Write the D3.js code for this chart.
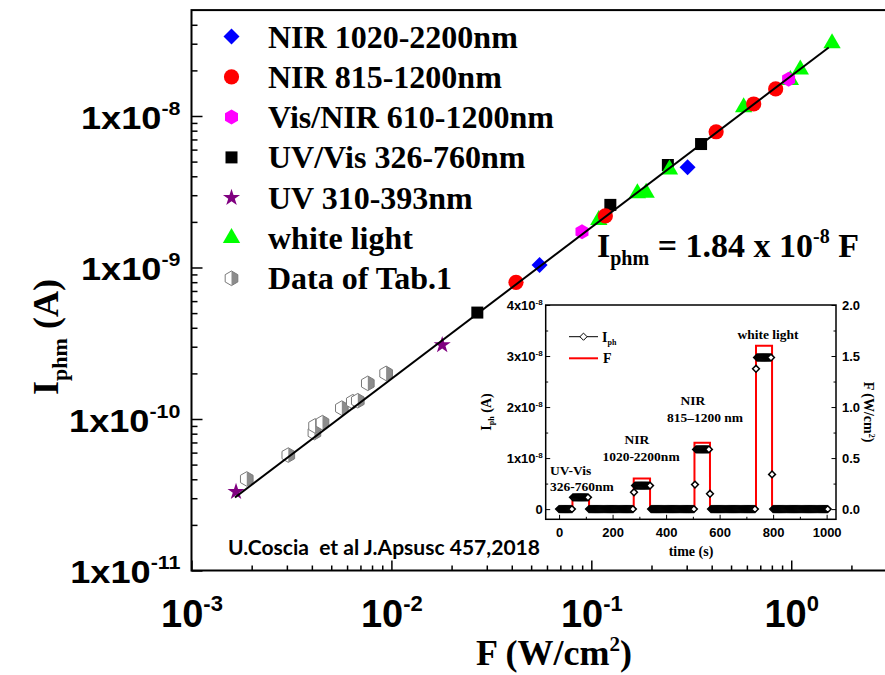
<!DOCTYPE html>
<html>
<head>
<meta charset="utf-8">
<script src="https://cdn.jsdelivr.net/npm/d3@7"></script>
<style>
  body { margin: 0; background: #fff; }
  svg { display: block; }
</style>
</head>
<body>
<svg id="chart" width="885" height="675"></svg>
<script>
// ---------- main plot data: photocurrent vs. irradiance ----------
const nir1020F = [0.0551, 0.303];
const nir1020I = [1.04e-9, 4.58e-9];
const nir815F = [0.042, 0.1175, 0.421, 0.649, 0.836];
const nir815I = [7.98e-10, 2.19e-9, 7.87e-9, 1.20e-8, 1.51e-8];
const visNirF = [0.0898, 0.97];
const visNirI = [1.72e-9, 1.75e-8];
const uvVisF = [0.0269, 0.1245, 0.2415, 0.354];
const uvVisI = [5.04e-10, 2.59e-9, 4.75e-9, 6.53e-9];
const uvF = [1.67e-3, 0.01795];
const uvI = [3.31e-11, 3.08e-10];
const whiteF = [0.109, 0.170, 0.188, 0.246, 0.578, 0.99, 1.11, 1.60];
const whiteI = [2.06e-9, 3.09e-9, 3.12e-9, 4.44e-9, 1.14e-8, 1.73e-8, 2.03e-8, 3.02e-8];
const tab1F = [1.89e-3, 3.05e-3, 4.12e-3, 4.15e-3, 4.52e-3, 5.65e-3, 6.41e-3, 6.79e-3, 7.62e-3, 9.41e-3];
const tab1I = [4.02e-11, 5.78e-11, 8.13e-11, 9.0e-11, 9.46e-11, 1.18e-10, 1.30e-10, 1.32e-10, 1.72e-10, 2.00e-10];

// linear fit  I_phm = 1.84e-8 * F
const fitSlope = 1.84e-8;
const fitRangeF = [1.65e-3, 1.54];

const legendLabels = ["NIR 1020-2200nm", "NIR 815-1200nm", "Vis/NIR 610-1200nm",
  "UV/Vis 326-760nm", "UV 310-393nm", "white light", "Data of Tab.1"];
const xMajorTicks = [1e-3, 1e-2, 1e-1, 1e0];
const xTickExponents = ["-3", "-2", "-1", "0"];
const yMajorTicks = [1e-11, 1e-10, 1e-9, 1e-8];
const yTickExponents = ["-11", "-10", "-9", "-8"];

// ---------- inset data: time response ----------
const iphTime = [
  0, 4, 8, 12, 16, 20, 24, 28, 32, 36, 40, 44, 48,
  52, 56, 60, 64, 68, 72, 76, 80, 84, 88, 92, 96, 100, 104, 108,
  112, 116, 120, 124, 128, 132, 136, 140, 144, 148, 152, 156, 160, 164, 168, 172, 176, 180, 184, 188,
  192, 196, 200, 204, 208, 212, 216, 220, 224, 228, 232, 236, 240, 244, 248, 252, 256, 260, 264, 268, 272, 276,
  280,
  284, 288, 292, 296, 300, 304, 308, 312, 316, 320, 324, 328, 332, 336, 340,
  344, 348, 352, 356, 360, 364, 368, 372, 376, 380, 384, 388, 392, 396, 400, 404, 408, 412, 416, 420,
  424, 428, 432, 436, 440, 444, 448, 452, 456, 460, 464, 468, 472, 476, 480, 484, 488, 492, 496, 500, 504,
  508,
  512, 516, 520, 524, 528, 532, 536, 540, 544, 548, 552, 556, 560,
  564,
  568, 572, 576, 580, 584, 588, 592, 596, 600, 604, 608, 612, 616, 620, 624, 628, 632, 636, 640, 644,
  648, 652, 656, 660, 664, 668, 672, 676, 680, 684, 688, 692, 696, 700, 704, 708, 712, 716, 720, 724, 728, 732,
  736,
  740, 744, 748, 752, 756, 760, 764, 768, 772, 776, 780, 784, 788, 792,
  796,
  800, 804, 808, 812, 816, 820, 824, 828, 832, 836, 840, 844, 848, 852, 856, 860, 864, 868, 872, 876,
  880, 884, 888, 892, 896, 900, 904, 908, 912, 916, 920, 924, 928, 932, 936, 940, 944, 948, 952, 956,
  960, 964, 968, 972, 976, 980, 984, 988, 992, 996, 1000, 1004
];
const iphValue = [
  0, 0, 0, 0, 0, 0, 0, 0, 0, 0, 0, 0, 0,
  2.3e-9, 2.3e-9, 2.3e-9, 2.3e-9, 2.3e-9, 2.3e-9, 2.3e-9, 2.3e-9, 2.3e-9, 2.3e-9, 2.3e-9, 2.3e-9, 2.3e-9, 2.3e-9, 2.3e-9,
  0, 0, 0, 0, 0, 0, 0, 0, 0, 0, 0, 0, 0, 0, 0, 0, 0, 0, 0, 0,
  0, 0, 0, 0, 0, 0, 0, 0, 0, 0, 0, 0, 0, 0, 0, 0, 0, 0, 0, 0, 0, 0,
  3.3e-9,
  4.6e-9, 4.6e-9, 4.6e-9, 4.6e-9, 4.6e-9, 4.6e-9, 4.6e-9, 4.6e-9, 4.6e-9, 4.6e-9, 4.6e-9, 4.6e-9, 4.6e-9, 4.6e-9, 4.6e-9,
  0, 0, 0, 0, 0, 0, 0, 0, 0, 0, 0, 0, 0, 0, 0, 0, 0, 0, 0, 0,
  0, 0, 0, 0, 0, 0, 0, 0, 0, 0, 0, 0, 0, 0, 0, 0, 0, 0, 0, 0, 0,
  4.8e-9,
  1.17e-8, 1.17e-8, 1.17e-8, 1.17e-8, 1.17e-8, 1.17e-8, 1.17e-8, 1.17e-8, 1.17e-8, 1.17e-8, 1.17e-8, 1.17e-8, 1.17e-8,
  3.0e-9,
  0, 0, 0, 0, 0, 0, 0, 0, 0, 0, 0, 0, 0, 0, 0, 0, 0, 0, 0, 0,
  0, 0, 0, 0, 0, 0, 0, 0, 0, 0, 0, 0, 0, 0, 0, 0, 0, 0, 0, 0, 0, 0,
  2.75e-8,
  2.97e-8, 2.97e-8, 2.97e-8, 2.97e-8, 2.97e-8, 2.97e-8, 2.97e-8, 2.97e-8, 2.97e-8, 2.97e-8, 2.97e-8, 2.97e-8, 2.97e-8, 2.97e-8,
  6.8e-9,
  0, 0, 0, 0, 0, 0, 0, 0, 0, 0, 0, 0, 0, 0, 0, 0, 0, 0, 0, 0,
  0, 0, 0, 0, 0, 0, 0, 0, 0, 0, 0, 0, 0, 0, 0, 0, 0, 0, 0, 0,
  0, 0, 0, 0, 0, 0, 0, 0, 0, 0, 0, 0
];
// irradiance switching sequence (W/cm^2)
const fluxTime = [0, 50, 50, 112, 112, 279, 279, 340, 340, 506, 506, 564, 564, 736, 736, 796, 796, 1004];
const fluxValue = [0, 0, 0.12, 0.12, 0, 0, 0.30, 0.30, 0, 0, 0.65, 0.65, 0, 0, 1.6, 1.6, 0, 0];

const insetTimeTicks = [0, 200, 400, 600, 800, 1000];
const insetIphTicks = [0, 1e-8, 2e-8, 3e-8, 4e-8];
const insetIphLabels = ["0", "1x10", "2x10", "3x10", "4x10"];
const insetFluxTicks = [0, 0.5, 1.0, 1.5, 2.0];

// ---------- drawing ----------
const svg = d3.select("#chart");
const SERIF = "'Liberation Serif', 'Times New Roman', serif";
const SANS = "'Liberation Sans', Arial, sans-serif";

const x = d3.scaleLog().domain([1e-3, 3.17]).range([191.5, 891.4]);
const y = d3.scaleLog().domain([1e-11, 5e-8]).range([570.5, 10.1]);

// marker shapes
const shapes = {
  diamond: r => `M0,${-r}L${r},0L0,${r}L${-r},0Z`,
  square: s => `M${-s},${-s}H${s}V${s}H${-s}Z`,
  hexagon: r => d3.range(6).map((k, i) => {
    const a = (-90 + 60 * k) * Math.PI / 180;
    return (i ? "L" : "M") + (r * Math.cos(a)).toFixed(2) + "," + (r * Math.sin(a)).toFixed(2);
  }).join("") + "Z",
  halfHexRight: r => `M0,${-r}L${(r * 0.866).toFixed(2)},${-r / 2}L${(r * 0.866).toFixed(2)},${r / 2}L0,${r}Z`,
  triangle: r => `M0,${-r}L${(r * 0.866).toFixed(2)},${r / 2}L${(-r * 0.866).toFixed(2)},${r / 2}Z`,
  circle: r => d3.symbol(d3.symbolCircle, Math.PI * r * r)(),
  star: r => d3.symbol(d3.symbolStar, r * r * 1.12)()
};

function drawMarker(g, kind, cx, cy) {
  const m = g.append("g").attr("transform", `translate(${cx},${cy})`);
  switch (kind) {
    case "nir1020": m.append("path").attr("d", shapes.diamond(8)).attr("fill", "#0000ff"); break;
    case "nir815": m.append("path").attr("d", shapes.circle(7.6)).attr("fill", "#ff0000"); break;
    case "visnir": m.append("path").attr("d", shapes.hexagon(7.5)).attr("fill", "#ff00ff"); break;
    case "uvvis": m.append("path").attr("d", shapes.square(6)).attr("fill", "#000"); break;
    case "uv": m.append("path").attr("d", shapes.star(9)).attr("fill", "#800080"); break;
    case "white": m.append("path").attr("d", shapes.triangle(10)).attr("fill", "#00ff00"); break;
    case "tab1":
      m.append("path").attr("d", shapes.hexagon(7.3)).attr("fill", "#fff");
      m.append("path").attr("d", shapes.halfHexRight(7.3)).attr("fill", "#8c8c8c");
      m.append("path").attr("d", shapes.hexagon(7.3)).attr("fill", "none")
        .attr("stroke", "#7a7a7a").attr("stroke-width", 1);
      break;
  }
}

// ---- main axes ----
const xMinor = [];
[-3, -2, -1, 0].forEach(e => d3.range(2, 10).forEach(m => {
  const v = m * Math.pow(10, e); if (v < 3.17) xMinor.push(v);
}));
const yMinor = [];
[-11, -10, -9, -8].forEach(e => d3.range(2, 10).forEach(m => {
  const v = m * Math.pow(10, e); if (v < 4.9e-8) yMinor.push(v);
}));

const axisStyle = g => {
  g.select(".domain").remove();
  g.selectAll(".tick line").attr("stroke", "#000").attr("stroke-width", 1.5);
};

svg.append("g").attr("transform", "translate(0,570.5)")
  .call(d3.axisBottom(x).tickValues(xMinor).tickSize(-5).tickFormat(() => ""))
  .call(axisStyle);
const gx = svg.append("g").attr("transform", "translate(0,570.5)")
  .call(d3.axisBottom(x).tickValues(xMajorTicks).tickSize(-10).tickFormat(() => ""))
  .call(axisStyle);
gx.selectAll(".tick text").each(function (d, i) {
  const t = d3.select(this).attr("y", 56).attr("dy", null)
    .attr("font-family", SANS).attr("font-weight", "bold").attr("font-size", 38)
    .attr("fill", "#000").attr("text-anchor", "middle");
  t.append("tspan").text("10");
  t.append("tspan").attr("dy", -16).attr("font-size", 22).text(xTickExponents[i]);
});

svg.append("g").attr("transform", "translate(191.5,0)")
  .call(d3.axisLeft(y).tickValues(yMinor).tickSize(-6).tickFormat(() => ""))
  .call(axisStyle);
const gy = svg.append("g").attr("transform", "translate(191.5,0)")
  .call(d3.axisLeft(y).tickValues(yMajorTicks).tickSize(-11).tickPadding(12).tickFormat(() => ""))
  .call(axisStyle);
gy.selectAll(".tick text").each(function (d, i) {
  // labels are set in a slightly widened bold face
  const t = d3.select(this).attr("x", 0).attr("dy", "0.38em")
    .attr("transform", "translate(-11,0) scale(1.13,1)")
    .attr("font-family", SANS).attr("font-weight", "bold").attr("font-size", 32)
    .attr("fill", "#000").attr("text-anchor", "end");
  t.append("tspan").text("1x10");
  t.append("tspan").attr("dy", -14).attr("font-size", 19).text(yTickExponents[i]);
});

// plot frame
svg.append("rect").attr("x", x.range()[0]).attr("y", y.range()[1])
  .attr("width", x.range()[1] - x.range()[0]).attr("height", y.range()[0] - y.range()[1])
  .attr("fill", "none").attr("stroke", "#000").attr("stroke-width", 2);

// axis titles
const yTitle = svg.append("text").attr("transform", "translate(58,337) rotate(-90)")
  .attr("text-anchor", "middle").attr("font-family", SERIF).attr("font-weight", "bold")
  .attr("font-size", 36).attr("fill", "#000");
yTitle.append("tspan").text("I");
yTitle.append("tspan").attr("dy", 9).attr("font-size", 22).text("phm");
yTitle.append("tspan").attr("dy", -9).text(" (A)");

const xTitle = svg.append("text").attr("x", 554).attr("y", 665)
  .attr("text-anchor", "middle").attr("font-family", SERIF).attr("font-weight", "bold")
  .attr("font-size", 36).attr("fill", "#000");
xTitle.append("tspan").text("F (W/cm");
xTitle.append("tspan").attr("dy", -14).attr("font-size", 21).text("2");
xTitle.append("tspan").attr("dy", 14).text(")");

// ---- main data markers ----
const seriesList = [
  { kind: "tab1", F: tab1F, I: tab1I },
  { kind: "uvvis", F: uvVisF, I: uvVisI },
  { kind: "uv", F: uvF, I: uvI },
  { kind: "white", F: whiteF, I: whiteI },
  { kind: "nir815", F: nir815F, I: nir815I },
  { kind: "nir1020", F: nir1020F, I: nir1020I },
  { kind: "visnir", F: visNirF, I: visNirI }
];
const gMarks = svg.append("g");
seriesList.forEach(s => s.F.forEach((f, i) => drawMarker(gMarks, s.kind, x(f), y(s.I[i]))));

// fit line
svg.append("path")
  .datum(fitRangeF)
  .attr("d", d3.line().x(f => x(f)).y(f => y(fitSlope * f)))
  .attr("fill", "none").attr("stroke", "#000").attr("stroke-width", 2);

// legend
const legendKinds = ["nir1020", "nir815", "visnir", "uvvis", "uv", "white", "tab1"];
const gLeg = svg.append("g");
legendLabels.forEach((lab, i) => {
  const cy = 36.5 + i * 40.3;
  drawMarker(gLeg, legendKinds[i], 231.5, cy);
  gLeg.append("text").attr("x", 268).attr("y", cy + 11)
    .attr("font-family", SERIF).attr("font-weight", "bold").attr("font-size", 32)
    .attr("fill", "#000").text(lab);
});

// fit equation
const eq = svg.append("text").attr("x", 597).attr("y", 257)
  .attr("font-family", SERIF).attr("font-weight", "bold").attr("font-size", 34).attr("fill", "#000");
eq.append("tspan").text("I");
eq.append("tspan").attr("dy", 8).attr("font-size", 20).text("phm");
eq.append("tspan").attr("dy", -8).text(" = 1.84 x 10");
eq.append("tspan").attr("dy", -14).attr("font-size", 20).text("-8");
eq.append("tspan").attr("dy", 14).text(" F");

// reference note
svg.append("text").attr("x", 228).attr("y", 555)
  .attr("font-family", "Lato, 'Open Sans', sans-serif").attr("font-weight", "bold")
  .attr("font-size", 20).attr("fill", "#000")
  .attr("textLength", 312).attr("lengthAdjust", "spacingAndGlyphs")
  .attr("xml:space", "preserve")
  .text("U.Coscia  et al J.Apsusc 457,2018");

// ---------- inset ----------
const ix = d3.scaleLinear().domain([-50, 1035]).range([545.7, 836]);
const iy = d3.scaleLinear().domain([-0.2e-8, 4e-8]).range([519.3, 305]);
const iyF = d3.scaleLinear().domain([-0.1, 2.0]).range([519.3, 305]);

const inset = svg.append("g");
inset.append("rect").attr("x", 545.7).attr("y", 305).attr("width", 836 - 545.7).attr("height", 519.3 - 305)
  .attr("fill", "#fff");

const insetAxisStyle = g => {
  g.select(".domain").remove();
  g.selectAll(".tick line").attr("stroke", "#000").attr("stroke-width", 1);
  g.selectAll(".tick text").attr("font-family", SANS).attr("font-weight", "bold")
    .attr("font-size", 13).attr("fill", "#000");
};

// bottom time axis
inset.append("g").attr("transform", "translate(0,519.3)")
  .call(d3.axisBottom(ix).tickValues([100, 300, 500, 700, 900]).tickSize(-2.5).tickFormat(() => ""))
  .call(insetAxisStyle);
inset.append("g").attr("transform", "translate(0,519.3)")
  .call(d3.axisBottom(ix).tickValues(insetTimeTicks).tickSize(-4.5).tickPadding(8).tickFormat(d3.format("d")))
  .call(insetAxisStyle);

// left Iph axis
inset.append("g").attr("transform", "translate(545.7,0)")
  .call(d3.axisLeft(iy).tickValues([0.5e-8, 1.5e-8, 2.5e-8, 3.5e-8]).tickSize(-2.5).tickFormat(() => ""))
  .call(insetAxisStyle);
const giy = inset.append("g").attr("transform", "translate(545.7,0)")
  .call(d3.axisLeft(iy).tickValues(insetIphTicks).tickSize(-4.5).tickPadding(3).tickFormat(() => ""))
  .call(insetAxisStyle);
giy.selectAll(".tick text").each(function (d, i) {
  const t = d3.select(this).attr("dy", "0.36em");
  t.append("tspan").text(insetIphLabels[i]);
  if (i > 0) t.append("tspan").attr("dy", -5).attr("font-size", 8).text("-8");
});

// right flux axis
inset.append("g").attr("transform", "translate(836,0)")
  .call(d3.axisRight(iyF).tickValues([0.25, 0.75, 1.25, 1.75]).tickSize(-2.5).tickFormat(() => ""))
  .call(insetAxisStyle);
inset.append("g").attr("transform", "translate(836,0)")
  .call(d3.axisRight(iyF).tickValues(insetFluxTicks).tickSize(-4.5).tickPadding(6).tickFormat(d3.format(".1f")))
  .call(insetAxisStyle);

inset.append("rect").attr("x", 545.7).attr("y", 305).attr("width", 836 - 545.7).attr("height", 519.3 - 305)
  .attr("fill", "none").attr("stroke", "#000").attr("stroke-width", 1.5);

// inset axis titles
const iyt = inset.append("text").attr("transform", "translate(491,412) rotate(-90)")
  .attr("text-anchor", "middle").attr("font-family", SERIF).attr("font-weight", "bold")
  .attr("font-size", 14).attr("fill", "#000");
iyt.append("tspan").text("I");
iyt.append("tspan").attr("dy", 3).attr("font-size", 8).text("ph");
iyt.append("tspan").attr("dy", -3).text(" (A)");

const ift = inset.append("text").attr("transform", "translate(864,412) rotate(90)")
  .attr("text-anchor", "middle").attr("font-family", SERIF).attr("font-weight", "bold")
  .attr("font-size", 14).attr("fill", "#000");
ift.append("tspan").text("F (W/cm");
ift.append("tspan").attr("dy", -5).attr("font-size", 8).text("2");
ift.append("tspan").attr("dy", 5).text(")");

inset.append("text").attr("x", 691).attr("y", 556).attr("text-anchor", "middle")
  .attr("font-family", SERIF).attr("font-weight", "bold").attr("font-size", 14)
  .attr("fill", "#000").text("time (s)");

// flux step line
inset.append("path")
  .datum(fluxTime.map((t, i) => [t, fluxValue[i]]))
  .attr("d", d3.line().x(d => ix(d[0])).y(d => iyF(d[1])))
  .attr("fill", "none").attr("stroke", "#ff0000").attr("stroke-width", 2);

// photocurrent samples (open diamonds)
inset.append("g").selectAll("path")
  .data(iphTime.map((t, i) => [t, iphValue[i]]))
  .join("path")
  .attr("transform", d => `translate(${ix(d[0])},${iy(d[1])})`)
  .attr("d", shapes.diamond(3.4))
  .attr("fill", "#fff").attr("stroke", "#000").attr("stroke-width", 1.5);

// inset legend
inset.append("line").attr("x1", 569).attr("x2", 598).attr("y1", 336.7).attr("y2", 336.7)
  .attr("stroke", "#000").attr("stroke-width", 1);
inset.append("path").attr("transform", "translate(583.5,336.7)").attr("d", shapes.diamond(3.6))
  .attr("fill", "#fff").attr("stroke", "#000").attr("stroke-width", 1);
const lgI = inset.append("text").attr("x", 602).attr("y", 341.5)
  .attr("font-family", SERIF).attr("font-weight", "bold").attr("font-size", 14).attr("fill", "#000");
lgI.append("tspan").text("I");
lgI.append("tspan").attr("dy", 3).attr("font-size", 8).text("ph");
inset.append("line").attr("x1", 569).attr("x2", 598).attr("y1", 358.3).attr("y2", 358.3)
  .attr("stroke", "#ff0000").attr("stroke-width", 2);
inset.append("text").attr("x", 603).attr("y", 363)
  .attr("font-family", SERIF).attr("font-weight", "bold").attr("font-size", 14)
  .attr("fill", "#000").text("F");

// inset annotations
const notes = [
  { t: "white light", x: 768, y: 338.5, a: "middle" },
  { t: "NIR", x: 693, y: 404.5, a: "middle" },
  { t: "815\u20131200 nm", x: 705, y: 422, a: "middle" },
  { t: "NIR", x: 637, y: 443.5, a: "middle" },
  { t: "1020-2200nm", x: 641, y: 460.5, a: "middle" },
  { t: "UV-Vis", x: 550, y: 475, a: "start" },
  { t: "326-760nm", x: 550, y: 490.5, a: "start" }
];
notes.forEach(n => inset.append("text").attr("x", n.x).attr("y", n.y).attr("text-anchor", n.a)
  .attr("font-family", SERIF).attr("font-weight", "bold").attr("font-size", 13.5)
  .attr("fill", "#000").text(n.t));
</script>
</body>
</html>
